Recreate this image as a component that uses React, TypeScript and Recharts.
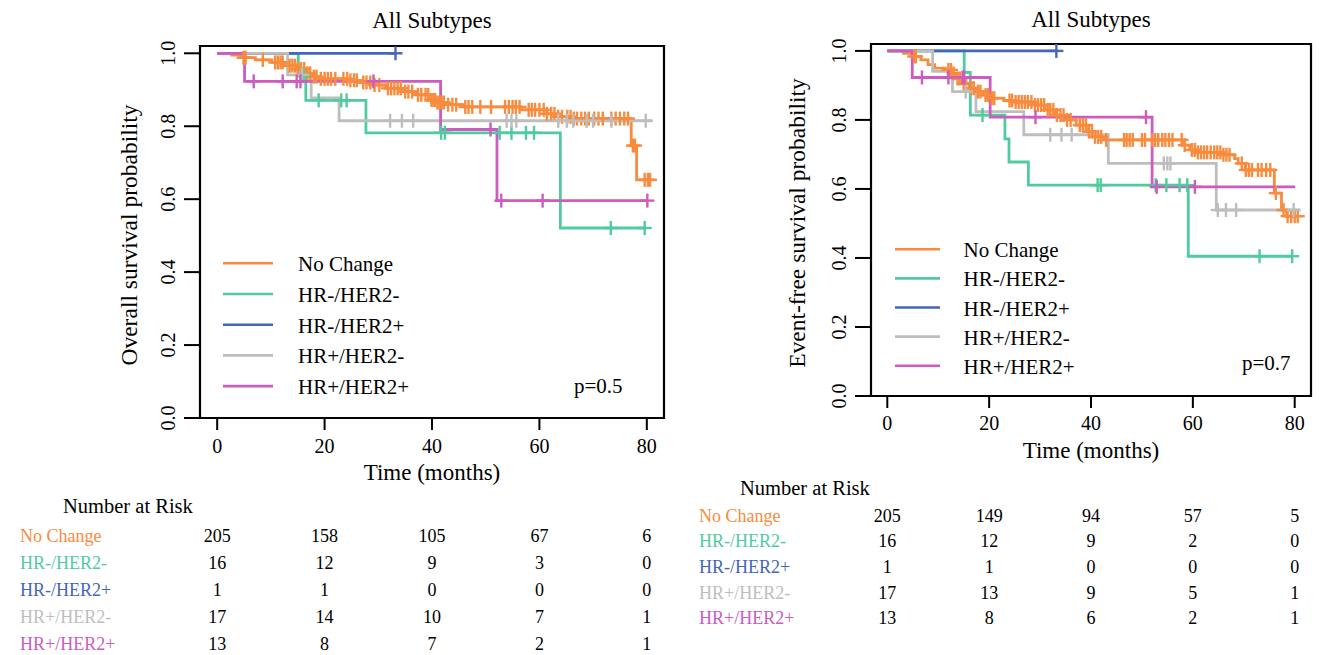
import React from 'react';
import { ComposedChart, Line, Scatter, XAxis, YAxis, ReferenceArea, Legend, Label } from 'recharts';

const FONT = '"Liberation Serif", "Times New Roman", Times, serif';

const GROUPS = ['No Change', 'HR-/HER2-', 'HR-/HER2+', 'HR+/HER2-', 'HR+/HER2+'];
const COLORS = ['#F98B3D', '#4FCB9E', '#4466BB', '#BEBEBE', '#CC5CC0'];
const X_TICKS = [0, 20, 40, 60, 80];
const Y_TICKS = [0, 0.2, 0.4, 0.6, 0.8, 1.0];
const RISK_TIMES = [0, 20, 40, 60, 80];
const X_DOMAIN: [number, number] = [-3.2, 83.2];
const Y_DOMAIN: [number, number] = [0, 1.02];

// overall survival, step points [month, survival]
const osNoChange = [[0, 1], [2.7, 0.995], [4.6, 0.988], [7.1, 0.982], [10.2, 0.975], [12.7, 0.966], [14.6, 0.957], [16.5, 0.945], [17.7, 0.936], [19, 0.93], [24.5, 0.926], [26.4, 0.92], [28.9, 0.913], [31.4, 0.904], [34.5, 0.895], [37, 0.886], [39.5, 0.872], [41, 0.865], [42.3, 0.859], [46, 0.853], [56.5, 0.845], [61.4, 0.834], [63.3, 0.826], [66, 0.821], [77.1, 0.747], [78.1, 0.653], [81, 0.653]];
const osHrnHer2n = [[0, 1], [15.1, 0.938], [16.5, 0.871], [27.7, 0.782], [63.9, 0.521], [79.6, 0.521]];
const osHrnHer2p = [[0, 1], [33.2, 1]];
const osHrpHer2n = [[0, 1], [13.1, 0.941], [17.5, 0.878], [22.7, 0.815], [81, 0.815]];
const osHrpHer2p = [[0, 1], [5.1, 0.923], [41.6, 0.791], [52.1, 0.596], [80.1, 0.596]];

// censoring times (months)
const osNoChangeCens = [4.9, 5.3, 8.5, 10.8, 11.3, 11.8, 12.2, 13.5, 14, 14.5, 15, 15.6, 16.2, 16.8, 17.3, 18, 18.5, 19.3, 20, 20.6, 21.2, 22, 23.5, 24.2, 24.8, 25.5, 26, 27.2, 27.8, 28.5, 29.3, 30.2, 31.8, 32.4, 33, 33.6, 34.2, 35, 35.6, 36.3, 37.4, 38, 38.8, 39.3, 39.9, 40.3, 40.6, 41, 41.4, 41.8, 42.2, 43, 43.8, 44.5, 46.2, 46.8, 47.5, 49, 51, 53.6, 54.3, 55, 55.6, 56.3, 58, 58.6, 59.2, 60, 60.8, 61.4, 62.2, 62.8, 63.5, 64.2, 65.2, 65.8, 66.4, 67, 67.8, 68.5, 69.2, 70.2, 71, 71.8, 73.4, 74.2, 75, 75.8, 76.5, 77.4, 77.8, 79.6, 80.2, 80.6];
const osHrnHer2nCens = [16.1, 18.9, 23.1, 24.1, 41.7, 42.4, 52.6, 54.8, 57.5, 59, 73.3, 79.6];
const osHrnHer2pCens = [33.2];
const osHrpHer2nCens = [15.8, 32.2, 34.4, 36.5, 53.9, 54.8, 55.7, 63.5, 65.1, 66.3, 68.8, 70, 73.4, 79.8];
const osHrpHer2pCens = [6.8, 12.2, 14.8, 15.5, 29.1, 50.9, 52.9, 60.6, 80.1];

// event-free survival, step points [month, survival]
const efsNoChange = [[0, 1], [3.2, 0.993], [5.3, 0.984], [6.6, 0.974], [8, 0.96], [9.3, 0.95], [11.4, 0.945], [12.7, 0.935], [13.4, 0.92], [14.8, 0.906], [16.1, 0.892], [17.5, 0.882], [18.8, 0.872], [20.2, 0.863], [22.9, 0.856], [25, 0.852], [29, 0.843], [31, 0.829], [33, 0.814], [35, 0.8], [37.1, 0.785], [39.1, 0.766], [40.5, 0.751], [42.5, 0.742], [58.1, 0.727], [59.4, 0.713], [61, 0.706], [66, 0.699], [68.2, 0.688], [68.9, 0.674], [70.3, 0.655], [76, 0.588], [77.4, 0.539], [78.4, 0.521], [80.8, 0.521]];
const efsHrnHer2n = [[0, 1], [15.1, 0.938], [16.3, 0.814], [23.1, 0.745], [23.9, 0.678], [27.7, 0.611], [59.1, 0.405], [79.5, 0.405]];
const efsHrnHer2p = [[0, 1], [33.2, 1]];
const efsHrpHer2n = [[0, 1], [8.9, 0.941], [12.8, 0.882], [17.4, 0.824], [26.8, 0.757], [43.4, 0.674], [64.6, 0.539], [81, 0.539]];
const efsHrpHer2p = [[0, 1], [4.9, 0.923], [20.2, 0.808], [52, 0.606], [80.1, 0.606]];

const efsNoChangeCens = [5.3, 5.6, 12, 12.5, 13, 13.8, 14.3, 15, 15.5, 16.5, 17, 17.8, 18.3, 19.3, 19.8, 20.5, 21, 24, 24.5, 25.2, 25.8, 26.4, 27, 27.6, 28.3, 29, 29.6, 30.2, 30.8, 31.5, 32, 32.6, 33.3, 34, 34.6, 35.3, 36, 37.8, 38.4, 39, 39.6, 40.2, 40.8, 41.4, 42, 43, 46.5, 47, 47.6, 48.2, 50, 50.6, 52, 52.6, 53.2, 54, 54.6, 55.3, 56, 57.8, 58.4, 59.8, 60.4, 61, 61.6, 62.2, 62.8, 63.5, 64.2, 64.8, 65.4, 66, 66.6, 67.2, 69.6, 70.4, 71, 71.6, 72.8, 73.5, 74.4, 75.2, 76.3, 77.8, 78.6, 79.3, 80, 80.6];
const efsHrnHer2nCens = [18.7, 41.3, 41.9, 52.7, 54.8, 57.4, 58.9, 73.1, 79.5];
const efsHrnHer2pCens = [33.2];
const efsHrpHer2nCens = [15.4, 32, 34.2, 36.2, 54.3, 55, 55.6, 64.9, 66.5, 68.5, 79.8];
const efsHrpHer2pCens = [6.8, 12, 14.8, 15.1, 29.1, 50.8, 52.9, 60.4];

// numbers at risk at RISK_TIMES, one row per group
const osRisk = [[205, 158, 105, 67, 6], [16, 12, 9, 3, 0], [1, 1, 0, 0, 0], [17, 14, 10, 7, 1], [13, 8, 7, 2, 1]];
const efsRisk = [[205, 149, 94, 57, 5], [16, 12, 9, 2, 0], [1, 1, 0, 0, 0], [17, 13, 9, 5, 1], [13, 8, 6, 2, 1]];

const OS_CURVES = [osNoChange, osHrnHer2n, osHrnHer2p, osHrpHer2n, osHrpHer2p];
const OS_CENS = [osNoChangeCens, osHrnHer2nCens, osHrnHer2pCens, osHrpHer2nCens, osHrpHer2pCens];
const EFS_CURVES = [efsNoChange, efsHrnHer2n, efsHrnHer2p, efsHrpHer2n, efsHrpHer2p];
const EFS_CENS = [efsNoChangeCens, efsHrnHer2nCens, efsHrnHer2pCens, efsHrpHer2nCens, efsHrpHer2pCens];

const toSteps = (pts: number[][]) => pts.map(([t, s]) => ({ t, s }));
const survAt = (pts: number[][], t: number) => {
  let s = 1;
  for (const [pt, ps] of pts) if (pt <= t) s = ps;
  return s;
};
const toMarks = (pts: number[][], times: number[]) => times.map((t) => ({ t, s: survAt(pts, t) }));

const censorShape = (color: string) => (p: any) => {
  if (p.cx == null || p.cy == null) return <g />;
  return (
    <g stroke={color} strokeWidth={2.4}>
      <line x1={p.cx - 7} x2={p.cx + 7} y1={p.cy} y2={p.cy} />
      <line x1={p.cx} x2={p.cx} y1={p.cy - 7} y2={p.cy + 7} />
    </g>
  );
};

const xTick = (dy: number) => (p: any) => (
  <text x={p.x} y={p.y + dy} textAnchor="middle" fontFamily={FONT} fontSize={20} fill="#000">
    {p.payload.value}
  </text>
);

const yTick = (p: any) => (
  <text x={p.x} y={p.y} transform={`rotate(-90, ${p.x}, ${p.y})`} textAnchor="middle" fontFamily={FONT} fontSize={20} fill="#000">
    {Number(p.payload.value).toFixed(1)}
  </text>
);

const xTitle = (text: string, dy: number) => (p: any) => {
  const vb = p.viewBox;
  return (
    <text x={vb.x + vb.width / 2} y={vb.y + dy} textAnchor="middle" fontFamily={FONT} fontSize={23} fill="#000">
      {text}
    </text>
  );
};

const yTitle = (text: string, dx: number) => (p: any) => {
  const vb = p.viewBox;
  const x = vb.x + vb.width - dx;
  const y = vb.y + vb.height / 2 + 3;
  return (
    <text x={x} y={y} transform={`rotate(-90, ${x}, ${y})`} textAnchor="middle" fontFamily={FONT} fontSize={23.5} fill="#000">
      {text}
    </text>
  );
};

interface LegendCfg { left: number; top: number; y0: number; gap: number; x1: number; x2: number; tx: number }

const legendContent = (cfg: LegendCfg) => (p: any) => {
  const items = (p.payload || [])
    .filter((it: any) => GROUPS.includes(it.value))
    .sort((a: any, b: any) => GROUPS.indexOf(a.value) - GROUPS.indexOf(b.value));
  return (
    <svg width={240} height={170} style={{ display: 'block', overflow: 'visible' }}>
      {items.map((it: any, i: number) => {
        const y = cfg.y0 + i * cfg.gap;
        return (
          <g key={it.value}>
            <line x1={cfg.x1} x2={cfg.x2} y1={y} y2={y} stroke={it.color} strokeWidth={2.6} />
            <text x={cfg.tx} y={y + 8} fontFamily={FONT} fontSize={21} fill="#000">{it.value}</text>
          </g>
        );
      })}
    </svg>
  );
};

interface PanelProps {
  curves: number[][][];
  cens: number[][];
  yLabel: string;
  width: number;
  height: number;
  margin: { top: number; right: number; bottom: number; left: number };
  yAxisWidth: number;
  xTickDy: number;
  yTitleDx: number;
  legend: LegendCfg;
}

const KMPanel = ({ curves, cens, yLabel, width, height, margin, yAxisWidth, xTickDy, yTitleDx, legend }: PanelProps) => (
  <ComposedChart width={width} height={height} margin={margin}>
    <XAxis type="number" dataKey="t" domain={X_DOMAIN} ticks={X_TICKS} interval={0} height={66}
      axisLine={false} tickLine={{ stroke: '#000', strokeWidth: 2 }} tickSize={12} tickMargin={2} tick={xTick(xTickDy)}>
      <Label content={xTitle('Time (months)', 62)} />
    </XAxis>
    <YAxis type="number" dataKey="s" domain={Y_DOMAIN} ticks={Y_TICKS} interval={0} width={yAxisWidth}
      axisLine={false} tickLine={{ stroke: '#000', strokeWidth: 2 }} tickSize={16} tickMargin={9} tick={yTick}>
      <Label content={yTitle(yLabel, yTitleDx)} />
    </YAxis>
    <ReferenceArea x1={X_DOMAIN[0]} x2={X_DOMAIN[1]} y1={Y_DOMAIN[0]} y2={Y_DOMAIN[1]} fill="none" fillOpacity={0} stroke="#000" strokeWidth={2.2} />
    {curves.map((c, i) => (
      <Line key={'l' + i} data={toSteps(c)} dataKey="s" name={GROUPS[i]} type="stepAfter" stroke={COLORS[i]} strokeWidth={2.8}
        dot={false} activeDot={false} isAnimationActive={false} />
    ))}
    {curves.map((c, i) => (
      <Scatter key={'c' + i} data={toMarks(c, cens[i])} dataKey="s" legendType="none" shape={censorShape(COLORS[i])} isAnimationActive={false} />
    ))}
    <Legend layout="horizontal" verticalAlign="middle" align="center" content={legendContent(legend)}
      wrapperStyle={{ left: legend.left, top: legend.top, width: 240, height: 170 }} />
  </ComposedChart>
);

interface RiskProps {
  rows: number[][];
  width: number;
  height: number;
  margin: { top: number; right: number; bottom: number; left: number };
  yAxisWidth: number;
}

const RiskTable = ({ rows, width, height, margin, yAxisWidth }: RiskProps) => {
  const data = rows.flatMap((counts, r) => counts.map((n, k) => ({ t: RISK_TIMES[k], row: r, n })));
  const rowTick = (p: any) => (
    <text x={p.x - yAxisWidth} y={p.y + 6} textAnchor="start" fontFamily={FONT} fontSize={18} fill={COLORS[p.payload.value]}>
      {GROUPS[p.payload.value]}
    </text>
  );
  const numShape = (p: any) => (
    <text x={p.cx} y={p.cy + 6} textAnchor="middle" fontFamily={FONT} fontSize={18} fill="#000">
      {p.payload ? p.payload.n : ''}
    </text>
  );
  return (
    <ComposedChart width={width} height={height} margin={margin}>
      <XAxis type="number" dataKey="t" domain={X_DOMAIN} hide />
      <YAxis type="number" dataKey="row" domain={[-0.5, 4.5]} reversed ticks={[0, 1, 2, 3, 4]} interval={0}
        width={yAxisWidth} axisLine={false} tickLine={false} tickSize={0} tickMargin={0} tick={rowTick} />
      <Scatter data={data} dataKey="row" shape={numShape} isAnimationActive={false} />
    </ComposedChart>
  );
};

const abs = (left: number, top: number): React.CSSProperties => ({ position: 'absolute', left, top });

export default function App() {
  return (
    <div style={{ position: 'absolute', left: 0, top: 0, width: 1322, height: 655, overflow: 'hidden', background: '#fff' }}>
      <div style={abs(0, 0)}>
        <KMPanel curves={OS_CURVES} cens={OS_CENS} yLabel="Overall survival probability"
          width={680} height={490} margin={{ top: 46, right: 16, bottom: 6, left: 100 }} yAxisWidth={100}
          xTickDy={21} yTitleDx={63}
          legend={{ left: 215, top: 245, y0: 18.3, gap: 30.7, x1: 8, x2: 58, tx: 83 }} />
      </div>
      <div style={abs(680, 0)}>
        <KMPanel curves={EFS_CURVES} cens={EFS_CENS} yLabel="Event-free survival probability"
          width={642} height={470} margin={{ top: 44, right: 11, bottom: 8, left: 91 }} yAxisWidth={100}
          xTickDy={20} yTitleDx={66}
          legend={{ left: 205, top: 232, y0: 17.3, gap: 29.1, x1: 10, x2: 55, tx: 78.5 }} />
      </div>
      <div style={abs(0, 490)}>
        <RiskTable rows={osRisk} width={680} height={168} margin={{ top: 32, right: 16, bottom: 0, left: 20 }} yAxisWidth={180} />
      </div>
      <div style={abs(680, 470)}>
        <RiskTable rows={efsRisk} width={642} height={161} margin={{ top: 33, right: 11, bottom: 0, left: 19 }} yAxisWidth={172} />
      </div>
      <svg width={1322} height={655} style={{ position: 'absolute', left: 0, top: 0, pointerEvents: 'none' }}>
        <g fontFamily={FONT} fill="#000">
          <text x={432} y={28} fontSize={23} textAnchor="middle">All Subtypes</text>
          <text x={1091} y={27} fontSize={23} textAnchor="middle">All Subtypes</text>
          <text x={574} y={393} fontSize={21}>p=0.5</text>
          <text x={1242} y={370} fontSize={21}>p=0.7</text>
          <text x={63} y={513} fontSize={20.5}>Number at Risk</text>
          <text x={740} y={495} fontSize={20.5}>Number at Risk</text>
        </g>
      </svg>
    </div>
  );
}
